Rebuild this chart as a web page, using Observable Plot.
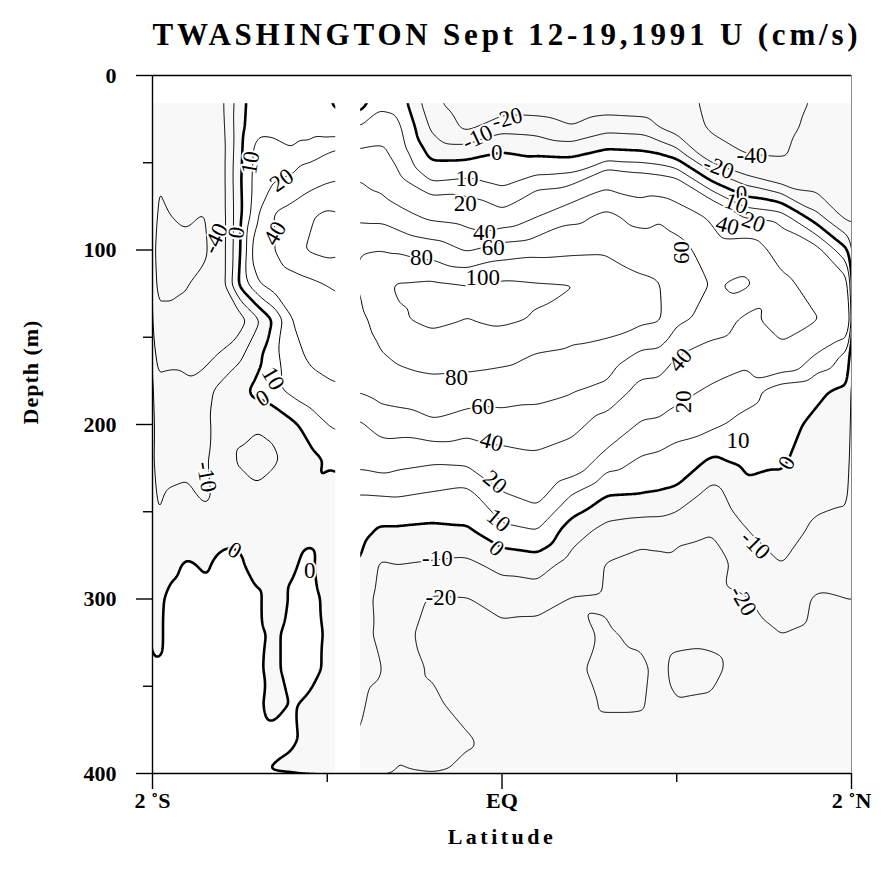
<!DOCTYPE html>
<html><head><meta charset="utf-8">
<script src="https://cdn.jsdelivr.net/npm/d3@7"></script>
<script src="https://cdn.jsdelivr.net/npm/@observablehq/plot@0.6"></script>
<style>
body{margin:0;background:#fff;}
#chart{position:absolute;left:0;top:0;}
</style></head><body><div id="chart"></div>
<script>
// ---- data (U in cm/s) ----
const titleText = "TWASHINGTON Sept 12-19,1991 U (cm/s)";
const depths = [15,30,45,60,80,100,120,140,160,180,200,220,240,260,280,300,320,340,360,380,400];

// West block (south of the gap), one row per depth, one value per latitude
const westLats = [-2.0,-1.9,-1.8,-1.7,-1.6,-1.5,-1.4,-1.3,-1.2,-1.1,-1.0,-0.94];
const westRows = [
  [-42,-37,-33,-29,-22,-4,7,6,5,5,1,-2],
  [-41,-36,-32,-28,-23,-3,8,8,7,6,4,3],
  [-41,-36,-31,-28,-24,-2,14,13,11,14,20,23],
  [-40.5,-36,-31,-28,-24,-1,15,19,22,32,38,40],
  [-44,-40,-37,-41,-24,-2,18,42,50,58,64,62],
  [-50,-46,-45,-43,-24,-1,28,40,55,62,66,64],
  [-45,-43,-40.5,-35,-24,2,18,25,30,35,40,42],
  [-36,-37,-38,-41,-33,-25,-12,2,20,28,33,34],
  [-24,-23,-23,-24,-18,-12,-3,8,16,22,24,24],
  [-17,-16,-18,-13,-7,-3,3,8,13,16,18,19],
  [-14,-15,-21,-11,-8,-8,-9,-8,-2,4,10,12],
  [-15,-14,-13,-11,-6,-11,-14,-11.5,-5,-3,1,2],
  [-12,-9,-8,-12,-6,-6,-8,-5,-2,-0.5,-2,-3],
  [-10,-8,-6,-5,-3,-2,-4,-4,-3,-2,-3,-4],
  [-4,-2,1,-1,2,1,-3,-2,-1,2,-5,-6],
  [-4,2,3,2,3,2,1,-3,1,3,-2,-4],
  [-3,2,3,3,3,2,1,-1,2,3,-1,-3],
  [1,2,3,3,3,3,0.5,-1,2,2,-1,-3],
  [1,2,3,3,3,2,1,-2,0.5,-1,-3,-4],
  [1,2,3,3,3,3,2,2,1,-2,-4,-5],
  [1,2,3,3,3,2,1,-1,-2,-4,-5,-6]
];

// East block (north of the gap), one column per latitude, one value per depth
const eastLats = [-0.82,-0.7,-0.6,-0.4,-0.2,0,0.2,0.4,0.6,0.8,0.9,1.0,1.2,1.4,1.6,1.8,2.0];
const eastCols = [
  [-8,11,22,40,55,78,79,76,72,62,37,24,10,5,0.3,-4,-6,-8,-9,-10,-12],
  [8,14,23,33,54,80,94,85,78,68,48,26,10.5,-1,-11,-13,-12,-9,-12,-13,-14],
  [7,13,17,23,47,78,102,98,84,70,50,24,11,-1,-10,-15,-17,-16,-17,-18,-21],
  [-18,-12,-3,9,34,71,104,104,89,73,57,22,9,-2,-11,-21,-23,-21,-18,-16,-19],
  [-26,-22,-3,11,30,58,101,100,88,72,50,23,7,-1,-12,-20.5,-24,-25,-24,-19,-22],
  [-28,-13,1,7,23,70,104,103,86,69,52,32,19,8,-7,-16,-23,-24,-25,-24,-23],
  [-27,-14,-1,13,38,74,102,99,79,66,52,36,24,10.5,-5,-16,-24,-25,-26,-25,-24],
  [-29,-19,-2,15,54,76,101,90,76,62,46,30,10,-5,-14,-20.5,-22,-22,-23,-23,-22],
  [-27,-13,3,32,64,77,94,89,72,56,31,15,0.5,-13,-20.5,-21,-19,-17,-19,-23,-24],
  [-28,-14,2,27,52,73,83,84,56,33,18,9,-0.3,-15,-24,-26,-22,-18,-19,-24,-25],
  [-29,-20,0,25,57,72,81,82,55,32,17,8,-1,-15,-23,-25,-24,-23,-24,-24,-25],
  [-30,-25,-5,22,50,68,70,64,41,25,14,6,-2,-18,-22,-24,-23,-17,-20.5,-24,-25],
  [-46,-43,-29,-1,36,50,59,54,30,18,12,-1,-14,-19,-25,-23,-22,-18,-21,-22,-22],
  [-50,-48,-40.5,-15,17,52,63,35,24,14,7,3,-3,-10,-15,-20.5,-24,-24,-24,-23,-23],
  [-47,-45,-42,-24,13,32,45,48,35,5,3,1,-2,-5,-10,-15,-20,-23,-24,-24,-24],
  [-38,-35,-30,-26,-8,24,33,41,19,2,-2,-4,-7,-12,-15,-21,-22,-22,-22,-22,-22],
  [-39,-35,-33,-30,-26,-2,22,32,6,-3,-5,-7,-9,-12,-16,-20,-21,-22,-22,-22,-22]
];

const thinLevels = [-40,-20,-10,10,20,40,60,80,100];
const zeroLevel = [0];

// contour labels
const labelText  = ["-20","-10","0","10","20","40","60","80","100","80","60","40","20","10","0","-10","-20",
                    "-40","-20","0","10","20","40","60","40","20","10","0","-10","-20",
                    "10","20","40","-40","0","10","0","-10","0","0"];
const labelLat   = [0.03,-0.14,-0.03,-0.2,-0.21,-0.1,-0.05,-0.46,-0.11,-0.26,-0.11,-0.06,-0.04,-0.02,-0.03,-0.37,-0.35,
                    1.43,1.24,1.37,1.34,1.44,1.29,1.03,1.02,1.04,1.35,1.63,1.45,1.38,
                    -1.44,-1.26,-1.3,-1.64,-1.52,-1.31,-1.37,-1.69,-1.53,-1.1];
const labelDepth = [24.6,35.5,44,59,73.4,90,98.6,104.3,115.8,173,190,210,233,255,271,277,299,
                    45.8,52.7,67.6,73.4,84,86,101.4,163,187,209,222,269,301,
                    50,60,90.5,93.4,90,173.6,185,230,272,283.7];
const labelAngle = [-15,-25,0,0,0,0,0,0,0,0,0,15,40,40,40,0,0,
                    0,20,0,20,20,15,-90,-50,-90,0,-60,45,60,
                    -80,-35,-60,-65,-80,60,-30,80,30,0];

// ---- build tables ----
const west = depths.flatMap((d, i) => westLats.map((lat, j) => ({lat, depth: d, u: westRows[i][j]})));
const east = eastLats.flatMap((lat, j) => depths.map((d, i) => ({lat, depth: d, u: eastCols[j][i]})));
const labels = labelText.map((t, i) => ({t, lat: labelLat[i], depth: labelDepth[i], a: labelAngle[i]}));

const serif = "Liberation Serif";

function block(data, x1, x2) {
  const common = {x: "lat", y: "depth", value: "u", interpolate: "barycentric",
                  x1, x2, y1: 15, y2: 405, pixelSize: 1, blur: 3, clip: true};
  return [
    Plot.rect([0], {x1, x2, y1: 15, y2: 405, fill: "#f8f8f8", clip: true}),
    Plot.contour(data, {...common, thresholds: zeroLevel, fill: "white", stroke: "none"}),
    Plot.contour(data, {...common, thresholds: thinLevels, fill: "none", stroke: "black", strokeWidth: 1}),
    Plot.contour(data, {...common, thresholds: zeroLevel, fill: "none", stroke: "black", strokeWidth: 2.6})
  ];
}

const xTickNames = new Map([[-2, "2 \u02DAS"], [0, "EQ"], [2, "2 \u02DAN"]]);

const svg = Plot.plot({
  width: 884, height: 877,
  marginLeft: 152, marginRight: 33, marginTop: 75, marginBottom: 104,
  style: {fontFamily: serif, background: "white", overflow: "visible"},
  x: {domain: [-2, 2], label: null},
  y: {domain: [0, 400], reverse: true, label: null},
  marks: [
    ...block(west, -2.03, -0.94),
    ...block(east, -0.82, 2.03),
    // blank strip (no data) and surface band above the first sample
    Plot.rect([0], {x1: -0.94, x2: -0.82, y1: 0, y2: 400, fill: "white", insetLeft: -2, insetRight: -2}),
    Plot.rect([0], {x1: -2, x2: 2, y1: 0, y2: 15, fill: "white", insetBottom: -2}),
    Plot.text(labels, {x: "lat", y: "depth", text: "t", rotate: "a", fontSize: 23, fontFamily: serif,
                       fill: "black", stroke: "white", strokeWidth: 4, paintOrder: "stroke"}),
    // frame
    Plot.ruleX([2], {stroke: "#8a8a8a", strokeWidth: 1}),
    Plot.ruleY([0], {stroke: "black", strokeWidth: 1.4}),
    Plot.ruleY([400], {stroke: "black", strokeWidth: 1.4}),
    Plot.ruleX([-2], {stroke: "black", strokeWidth: 1.4}),
    // axes
    Plot.axisY({ticks: [0,100,200,300,400], tickSize: 16, tickPadding: 20, strokeWidth: 1.4,
                fontSize: 22, fontWeight: "bold", fontFamily: serif, tickFormat: d => String(d)}),
    Plot.axisY({ticks: [50,150,250,350], tickSize: 9, strokeWidth: 1.4, tickFormat: () => ""}),
    Plot.axisX({ticks: [-2,0,2], tickSize: 16, tickPadding: 3, strokeWidth: 1.4,
                fontSize: 22, fontWeight: "bold", fontFamily: serif, tickFormat: d => xTickNames.get(d)}),
    Plot.axisX({ticks: [-1,1], tickSize: 9, strokeWidth: 1.4, tickFormat: () => ""}),
    // titles
    Plot.text([titleText], {frameAnchor: "top", dy: -53, dx: 5, fontSize: 31, fontWeight: "bold", fontFamily: serif}),
    Plot.text(["Latitude"], {frameAnchor: "bottom", dy: 70, fontSize: 22, fontWeight: "bold", fontFamily: serif}),
    Plot.text(["Depth (m)"], {frameAnchor: "left", dx: -122, rotate: -90, fontSize: 22, fontWeight: "bold", fontFamily: serif})
  ]
});
document.getElementById("chart").append(svg);
const ls = {[titleText]: "3.8px", "Latitude": "3.5px", "Depth (m)": "1px"};
d3.select(svg).selectAll("text").each(function() {
  const t = this.textContent;
  if (ls[t]) this.style.letterSpacing = ls[t];
});
</script>
</body></html>
